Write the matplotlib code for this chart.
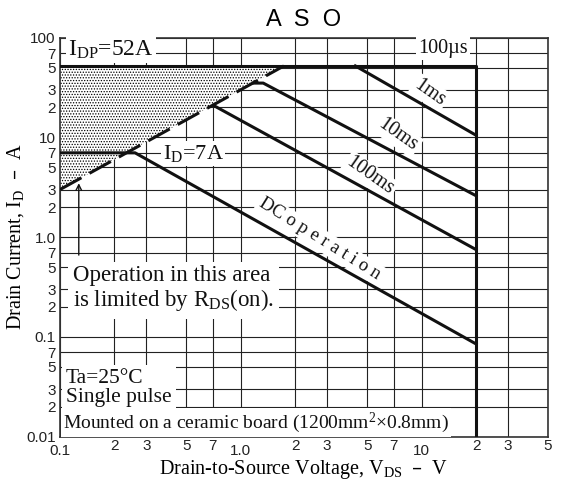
import matplotlib.pyplot as plt
import numpy as np

plt.rcParams['hatch.linewidth'] = 0.6

# limit lines (V, A)
idp = 52
vds_max = 20
us100_v = [0.1, vds_max, vds_max]
us100_i = [idp, idp, 0.01]
ms1_v = [4.3, 20]
ms1_i = [idp, 10.5]
ms10_v = [1.17, 1.33, 20]
ms10_i = [35, 35, 2.6]
ms100_v = [0.72, 20]
ms100_i = [20.5, 0.75]
dc_v = [0.1, 0.26, 20]
dc_i = [7, 7, 0.085]
rds_v = [0.1, 1.73]
rds_i = [3, idp]

xticks_major = [0.1, 1, 10]
xlabels_major = ["0.1", "1.0", "10"]
xticks_minor = [0.2, 0.3, 0.5, 0.7, 2, 3, 5, 7, 20, 30, 50]
xlabels_minor = ["2", "3", "5", "7", "2", "3", "5", "7", "2", "3", "5"]
yticks_major = [0.01, 0.1, 1, 10, 100]
ylabels_major = ["0.01", "0.1", "1.0", "10", "100"]
yticks_minor = [m * d for d in [0.01, 0.1, 1, 10] for m in [2, 3, 5, 7]]
ylabels_minor = ["2", "3", "5", "7"] * 4

serif = "Liberation Serif"
sans = "Liberation Sans"

fig = plt.figure(figsize=(5.63, 4.82), dpi=100)
ax = fig.add_axes([0.1066, 0.094, 0.8668, 0.828])
ax.set_xscale("log")
ax.set_yscale("log")
ax.set_xlim(0.1, 50)
ax.set_ylim(0.01, 100)

ax.set_xticks(xticks_major)
ax.set_xticklabels(xlabels_major)
ax.set_xticks(xticks_minor, minor=True)
ax.set_xticklabels(xlabels_minor, minor=True)
ax.set_yticks(yticks_major)
ax.set_yticklabels(ylabels_major)
ax.set_yticks(yticks_minor, minor=True)
ax.set_yticklabels(ylabels_minor, minor=True)
ax.tick_params(axis="both", which="both", length=0, labelsize=11, labelcolor="#222222")
ax.tick_params(axis="x", which="major", pad=5)
ax.tick_params(axis="x", which="minor", pad=2)
ax.tick_params(axis="y", which="both", pad=3)
for lab in ax.get_xticklabels(which="both") + ax.get_yticklabels(which="both"):
    lab.set_fontfamily(sans)
ax.grid(True, which="both", color="#222222", lw=0.8, zorder=0)
ax.set_axisbelow(True)
for s in ax.spines.values():
    s.set_linewidth(1.2)
    s.set_color("#333333")

# shaded area limited by RDS(on)
fx = np.array([0.1, rds_v[1]])
ax.fill_between(fx, np.interp(fx, rds_v, rds_i), [idp, idp], facecolor="white",
                edgecolor="black", hatch="......", lw=0, zorder=1)

lw = 2.2
ax.plot(us100_v, us100_i, color="#111111", lw=lw, zorder=4)
ax.plot(ms1_v, ms1_i, color="#111111", lw=lw, zorder=4)
ax.plot(ms10_v, ms10_i, color="#111111", lw=lw, zorder=4)
ax.plot(ms100_v, ms100_i, color="#111111", lw=lw, zorder=4)
ax.plot(dc_v, dc_i, color="#111111", lw=lw, zorder=4)
ax.plot(rds_v, rds_i, color="#111111", lw=lw, ls=(0, (8, 3)), zorder=4)

box = dict(fc="white", ec="none", pad=1.5)
tk = dict(family=serif, color="#111111", zorder=3)
ax.text(0.111, 76, r"$\mathregular{I_{DP}}$=52A", fontsize=17, ha="left", va="center",
        bbox=box, **tk)
ax.text(13.1, 77, "100µs", fontsize=14.5, ha="center", va="center", bbox=box, **tk)
ax.text(11.1, 27.8, "1ms", fontsize=14.5, ha="center", va="center", rotation=-35,
        bbox=box, **tk)
ax.text(7.4, 10.5, "10ms", fontsize=14.5, ha="center", va="center", rotation=-35,
        bbox=box, **tk)
ax.text(5.18, 4.1, "100ms", fontsize=14.5, ha="center", va="center", rotation=-35,
        bbox=box, **tk)
ax.text(2.72, 0.96, "DC o p e r a t i o n", fontsize=13.5, ha="center", va="center",
        rotation=-32, bbox=box, **tk)
ax.text(0.544, 6.9, r"$\mathregular{I_D}$=7A", fontsize=16, ha="center", va="center",
        bbox=box, **tk)
ax.text(0.118, 0.3, "Operation in this area\nis limited by $\\mathregular{R_{DS}}$(on).",
        fontsize=16.5, ha="left", va="center", linespacing=1.05,
        bbox=dict(fc="white", ec="none", pad=4), **tk)
ax.text(0.108, 0.0305, "Ta=25°C\nSingle pulse", fontsize=15.5, ha="left", va="center",
        linespacing=1.0, bbox=dict(fc="white", ec="none", pad=3), **tk)
ax.text(0.104, 0.0138, r"Mounted on a ceramic board (1200mm$\mathregular{^2}$×0.8mm)",
        fontsize=14, ha="left", va="center", bbox=box, **tk)

ax.annotate("", xy=(0.127, 3.7), xytext=(0.127, 0.62),
            arrowprops=dict(arrowstyle="->", color="#111111", lw=1.0), zorder=3)

ax.set_title("A  S  O", family=sans, fontsize=17, pad=8)
ax.set_xlabel(r"Drain-to-Source Voltage, $\mathregular{V_{DS}}$  –  V", family=serif,
              fontsize=14.5, labelpad=0)
ax.set_ylabel(r"Drain Current, $\mathregular{I_D}$  –  A", family=serif, fontsize=14.5,
              labelpad=0)

fig.savefig("out.png", dpi=100)
